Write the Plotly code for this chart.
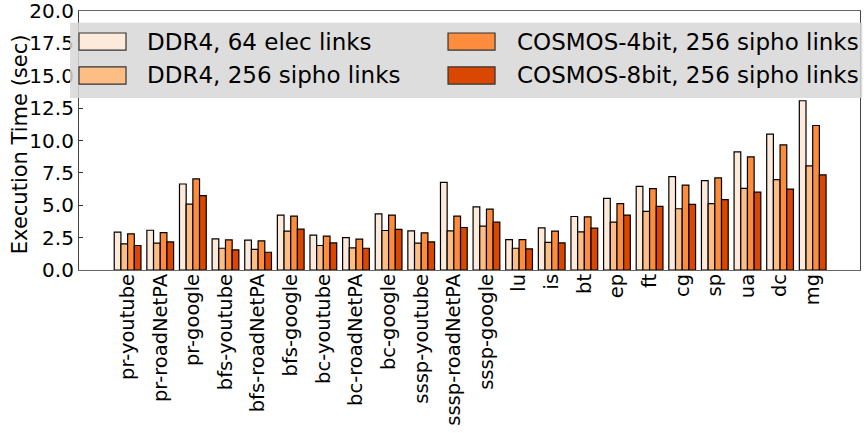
import plotly.graph_objects as go

# benchmark names (x axis)
benchmarks = ["pr-youtube", "pr-roadNetPA", "pr-google", "bfs-youtube", "bfs-roadNetPA",
              "bfs-google", "bc-youtube", "bc-roadNetPA", "bc-google", "sssp-youtube",
              "sssp-roadNetPA", "sssp-google", "lu", "is", "bt", "ep", "ft", "cg", "sp",
              "ua", "dc", "mg"]

# execution time (sec)
ddr4_64_elec = [2.92, 3.07, 6.64, 2.40, 2.30, 4.24, 2.69, 2.50, 4.34, 3.02, 6.77,
                4.88, 2.35, 3.26, 4.13, 5.53, 6.46, 7.21, 6.90, 9.12, 10.49, 13.07]
ddr4_256_sipho = [2.02, 2.07, 5.09, 1.68, 1.60, 3.00, 1.89, 1.71, 3.05, 2.07, 3.02,
                  3.39, 1.68, 2.14, 2.95, 3.69, 4.52, 4.73, 5.12, 6.30, 6.98, 8.04]
cosmos_4bit = [2.79, 2.89, 7.03, 2.33, 2.25, 4.16, 2.61, 2.38, 4.24, 2.87, 4.16,
               4.70, 2.35, 3.00, 4.11, 5.12, 6.28, 6.56, 7.11, 8.73, 9.66, 11.16]
cosmos_8bit = [1.89, 2.17, 5.74, 1.55, 1.37, 3.15, 2.09, 1.68, 3.13, 2.17, 3.28,
               3.69, 1.63, 2.09, 3.23, 4.24, 4.91, 5.06, 5.43, 6.02, 6.25, 7.34]

series_names = ["DDR4, 64 elec links", "DDR4, 256 sipho links",
                "COSMOS-4bit, 256 sipho links", "COSMOS-8bit, 256 sipho links"]
series_values = [ddr4_64_elec, ddr4_256_sipho, cosmos_4bit, cosmos_8bit]
colors = ["#feeadb", "#fdbe85", "#fd8d3c", "#d94701"]

FONT = "DejaVu Sans"

fig = go.Figure()
for name, vals, col in zip(series_names, series_values, colors):
    fig.add_trace(go.Bar(
        x=benchmarks, y=vals, name=name,
        marker=dict(color=col, line=dict(color="black", width=1.2)),
        showlegend=False,
    ))

# hand-drawn legend box (matplotlib style, overlapping the plot)
shapes = [dict(type="rect", xref="paper", yref="paper",
               x0=-0.0115, x1=1.003, y0=0.664, y1=0.955,
               fillcolor="rgba(215,215,215,0.85)", line=dict(width=0), layer="above")]
annotations = []
sw_x = [0.0, 0.4725]
txt_x = [0.0845, 0.5583]
row_y = [(0.849, 0.915), (0.718, 0.784)]
for i, (name, col) in enumerate(zip(series_names, colors)):
    c, r = i // 2, i % 2
    y0, y1 = row_y[r]
    shapes.append(dict(type="rect", xref="paper", yref="paper",
                       x0=sw_x[c], x1=sw_x[c] + 0.0602, y0=y0, y1=y1,
                       fillcolor=col, line=dict(color="#333", width=1.2), layer="above"))
    annotations.append(dict(text=name, xref="paper", yref="paper",
                            x=txt_x[c], y=(y0 + y1) / 2, xanchor="left", yanchor="middle",
                            showarrow=False, font=dict(family=FONT, size=23, color="black")))

# y axis title placed by hand, it sits close to the tick labels in the original
annotations.append(dict(text="Execution Time (sec)", xref="paper", yref="paper",
                        x=-0.0755, y=0.486, xanchor="center", yanchor="middle",
                        textangle=-90, showarrow=False,
                        font=dict(family=FONT, size=21, color="black")))

fig.update_layout(
    width=864, height=433,
    margin=dict(l=79, r=4, t=11, b=163),
    barmode="group", bargap=0.18, bargroupgap=0,
    plot_bgcolor="white", paper_bgcolor="white",
    font=dict(family=FONT, size=20, color="black"),
    shapes=shapes, annotations=annotations,
)
fig.update_xaxes(
    range=[-1.49, 22.45], tickangle=-90, ticks="", showgrid=False,
    showline=True, mirror=True, linecolor="#666", linewidth=1.2,
    tickfont=dict(size=19.5), automargin=False, ticklabelstandoff=-5,
)
fig.update_yaxes(
    range=[0, 20], dtick=2.5, tickformat=".1f", showgrid=False,
    ticks="inside", ticklen=4, tickcolor="#333",
    showline=True, mirror=True, linecolor="#444", linewidth=1.2,
    tickfont=dict(size=20), automargin=False, ticklabeloverflow="allow",
)

# drop the default 8px body margin so the figure fills the window exactly
fig.write_html("out.html", config={"displayModeBar": False},
               post_script="document.body.style.margin='0px';")
